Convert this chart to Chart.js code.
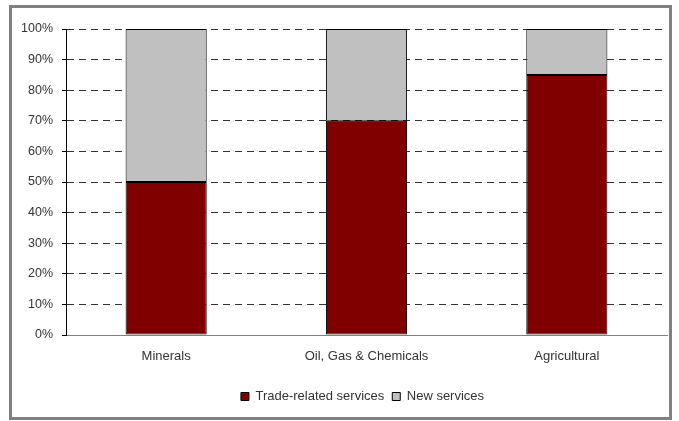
<!DOCTYPE html>
<html>
<head>
<meta charset="utf-8">
<script src="https://cdn.jsdelivr.net/npm/chart.js@4"></script>
<style>
  body { margin: 0; background: #fff; }
  canvas { display: block; }
</style>
</head>
<body>
<canvas id="chart" width="679" height="421"></canvas>
<script>
const categories = ['Minerals', 'Oil, Gas & Chemicals', 'Agricultural'];
const tradeRelated = [50, 70, 85];
const newServices = [50, 30, 15];
const seriesNames = ['Trade-related services', 'New services'];

const fontFamily = '"Liberation Sans", Arial, Helvetica, sans-serif';

// grey frame round the whole chart
const framePlugin = {
    id: 'frame',
    afterDraw(chart) {
        const ctx = chart.ctx;
        ctx.save();
        ctx.strokeStyle = '#808080';
        ctx.lineWidth = 3;
        ctx.strokeRect(10.5, 6.5, 660, 412);
        ctx.restore();
    }
};

// legend in the reference sits right of centre
const legendShift = {
    id: 'legendShift',
    afterLayout(chart) {
        chart.legend.left += 58;
    }
};

const ctx = document.getElementById('chart').getContext('2d');
new Chart(ctx, {
    type: 'bar',
    data: {
        labels: categories,
        datasets: [
            {
                label: seriesNames[0],
                data: tradeRelated,
                backgroundColor: '#800000',
                borderColor: '#000',
                borderWidth: 1,
                borderSkipped: false,
                barPercentage: 0.405,
                categoryPercentage: 1
            },
            {
                label: seriesNames[1],
                data: newServices,
                backgroundColor: '#C0C0C0',
                borderColor: '#000',
                borderWidth: 1,
                borderSkipped: false,
                barPercentage: 0.405,
                categoryPercentage: 1
            }
        ]
    },
    options: {
        responsive: false,
        animation: false,
        layout: { padding: { top: 29, right: 12, bottom: 8, left: 0 } },
        plugins: {
            legend: {
                position: 'bottom',
                labels: {
                    boxWidth: 8,
                    boxHeight: 8,
                    padding: 8,
                    color: '#333',
                    font: { family: fontFamily, size: 13 }
                }
            },
            tooltip: { enabled: false }
        },
        scales: {
            x: {
                stacked: true,
                grid: { display: false, drawTicks: false },
                border: { color: '#808080', width: 1 },
                ticks: { color: '#333', padding: 14, font: { family: fontFamily, size: 13 } },
                afterFit: scale => { scale.height = 47; }
            },
            y: {
                stacked: true,
                min: 0,
                max: 100,
                ticks: {
                    stepSize: 10,
                    padding: 9,
                    color: '#333',
                    font: { family: fontFamily, size: 12.5 },
                    callback: v => v + '%'
                },
                grid: {
                    color: c => (c.tick && c.tick.value === 0) ? 'rgba(0,0,0,0)' : '#333',
                    tickLength: 4,
                    tickColor: '#000',
                    tickBorderDash: []
                },
                border: { color: '#000', width: 1, dash: [7, 5] },
                afterFit: scale => { scale.width = 66; }
            }
        }
    },
    plugins: [framePlugin, legendShift]
});
</script>
</body>
</html>
